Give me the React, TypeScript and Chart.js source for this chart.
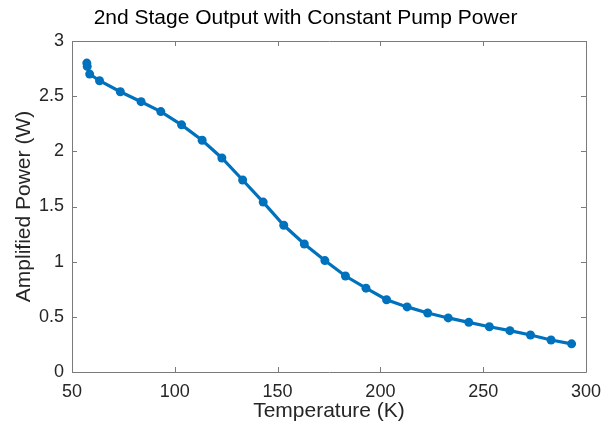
import React, { useEffect, useRef } from "react";
import { Chart, registerables } from "chart.js";

Chart.register(...registerables);

const TITLE = "2nd Stage Output with Constant Pump Power";
const X_LABEL = "Temperature (K)";
const Y_LABEL = "Amplified Power (W)";

const temperatures = [57.2, 57.4, 58.6, 63.4, 73.5, 83.6, 93.2, 103.3, 113.3, 122.9, 133, 143, 153, 163, 173, 183, 193, 203, 213, 223, 233, 243, 253, 263, 273, 283, 293];
const powers = [2.80, 2.77, 2.70, 2.64, 2.54, 2.45, 2.36, 2.24, 2.10, 1.94, 1.74, 1.54, 1.33, 1.16, 1.01, 0.87, 0.76, 0.655, 0.59, 0.535, 0.49, 0.45, 0.41, 0.375, 0.335, 0.29, 0.255];

const X_MIN = 50, X_MAX = 300, X_STEP = 50;
const Y_MIN = 0, Y_MAX = 3, Y_STEP = 0.5;

const LINE_COLOR = "#0072BD";
const AXIS_COLOR = "#7a7a7a";
const TEXT_COLOR = "#262626";
const FONT = "'Liberation Sans', Arial, Helvetica, sans-serif";

const boxPlugin = {
  id: "matlabBox",
  beforeDatasetsDraw(chart: any) {
    const { ctx, chartArea } = chart;
    const { left, right, top, bottom } = chartArea;
    const xs = chart.scales.x;
    const ys = chart.scales.y;
    ctx.save();
    ctx.strokeStyle = AXIS_COLOR;
    ctx.lineWidth = 1;
    ctx.beginPath();
    ctx.rect(Math.round(left) + 0.5, Math.round(top) + 0.5, Math.round(right - left), Math.round(bottom - top));
    ctx.stroke();
    const tl = 5;
    ctx.beginPath();
    xs.ticks.forEach((t: any) => {
      const px = Math.round(xs.getPixelForValue(t.value)) + 0.5;
      ctx.moveTo(px, bottom);
      ctx.lineTo(px, bottom - tl);
      ctx.moveTo(px, top);
      ctx.lineTo(px, top + tl);
    });
    ys.ticks.forEach((t: any) => {
      const py = Math.round(ys.getPixelForValue(t.value)) + 0.5;
      ctx.moveTo(left, py);
      ctx.lineTo(left + tl, py);
      ctx.moveTo(right, py);
      ctx.lineTo(right - tl, py);
    });
    ctx.stroke();
    ctx.restore();
  },
  afterDraw(chart: any) {
    const { ctx } = chart;
    ctx.save();
    ctx.fillStyle = "#000";
    ctx.font = `21px ${FONT}`;
    ctx.textAlign = "center";
    ctx.textBaseline = "middle";
    ctx.fillText(TITLE, 305.5, 18);
    ctx.restore();
  },
};

export default function App() {
  const ref = useRef<HTMLCanvasElement | null>(null);

  useEffect(() => {
    if (!ref.current) return;
    const points = temperatures.map((t, i) => ({ x: t, y: powers[i] }));
    const chart = new Chart(ref.current, {
      type: "line",
      data: {
        datasets: [
          {
            data: points,
            borderColor: LINE_COLOR,
            backgroundColor: LINE_COLOR,
            borderWidth: 3.2,
            pointRadius: 4.5,
            pointBorderWidth: 0,
            pointBackgroundColor: LINE_COLOR,
            tension: 0,
          },
        ],
      },
      options: {
        responsive: false,
        animation: false,
        layout: { padding: { left: 0, right: 17, top: 41, bottom: 0 } },
        plugins: {
          legend: { display: false },
          tooltip: { enabled: false },
          title: { display: false },
        },
        scales: {
          x: {
            type: "linear",
            min: X_MIN,
            max: X_MAX,
            ticks: {
              stepSize: X_STEP,
              color: TEXT_COLOR,
              font: { family: FONT, size: 18 },
              padding: 9,
              maxRotation: 0,
              callback: (v: any) => String(Number(v)),
            },
            grid: { display: false, drawTicks: false },
            border: { display: false },
            title: {
              display: true,
              text: X_LABEL,
              color: TEXT_COLOR,
              font: { family: FONT, size: 21 },
              padding: { top: 0, bottom: -2.5 },
            },
            afterFit: (s: any) => {
              s.height = 49;
            },
          },
          y: {
            type: "linear",
            min: Y_MIN,
            max: Y_MAX,
            ticks: {
              stepSize: Y_STEP,
              color: TEXT_COLOR,
              font: { family: FONT, size: 18 },
              padding: 8,
              callback: (v: any) => String(Number(v)),
            },
            grid: { display: false, drawTicks: false },
            border: { display: false },
            title: {
              display: true,
              text: Y_LABEL,
              color: TEXT_COLOR,
              font: { family: FONT, size: 21 },
              padding: { top: 12, bottom: 0 },
            },
            afterFit: (s: any) => {
              s.width = 72;
            },
          },
        },
      },
      plugins: [boxPlugin],
    });
    return () => chart.destroy();
  }, []);

  return (
    <div style={{ position: "fixed", left: 0, top: 0, width: 610, height: 421, background: "#fff" }}>
      <canvas ref={ref} width={610} height={421} />
    </div>
  );
}
